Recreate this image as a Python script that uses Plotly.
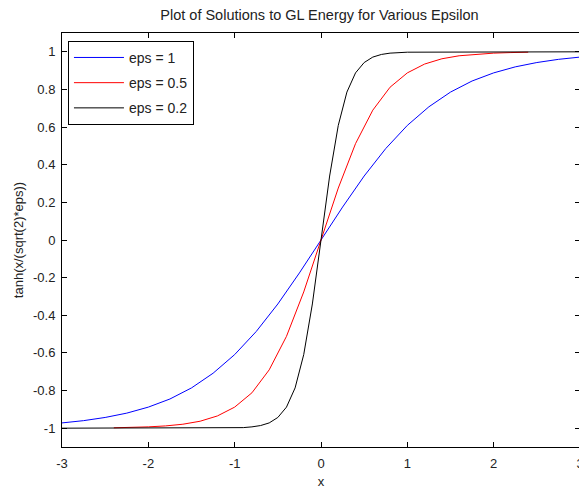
import plotly.graph_objects as go

# eps = 1
x_eps1 = [-3, -2.75, -2.5, -2.25, -2, -1.75, -1.5, -1.25, -1, -0.75, -0.5, -0.25, 0,
          0.25, 0.5, 0.75, 1, 1.25, 1.5, 1.75, 2, 2.25, 2.5, 2.75, 3]
y_eps1 = [-0.972, -0.960, -0.943, -0.920, -0.888, -0.845, -0.786, -0.708, -0.609, -0.486, -0.340, -0.175, 0,
          0.175, 0.340, 0.486, 0.609, 0.708, 0.786, 0.845, 0.888, 0.920, 0.943, 0.960, 0.972]

# eps = 0.5
x_eps05 = [-2.4, -2.2, -2.0, -1.8, -1.6, -1.4, -1.2, -1.0, -0.8, -0.6, -0.4, -0.2, 0,
           0.2, 0.4, 0.6, 0.8, 1.0, 1.2, 1.4, 1.6, 1.8, 2.0, 2.2, 2.4]
y_eps05 = [-0.998, -0.996, -0.993, -0.988, -0.979, -0.963, -0.935, -0.888, -0.812, -0.690, -0.512, -0.276, 0,
           0.276, 0.512, 0.690, 0.812, 0.888, 0.935, 0.963, 0.979, 0.988, 0.993, 0.996, 0.998]

# eps = 0.2
x_eps02 = [-3, -1.0, -0.9, -0.8, -0.7, -0.6, -0.5, -0.4, -0.3, -0.2, -0.1, 0,
           0.1, 0.2, 0.3, 0.4, 0.5, 0.6, 0.7, 0.8, 0.9, 1.0, 3]
y_eps02 = [-1.0, -0.998, -0.997, -0.993, -0.986, -0.972, -0.943, -0.888, -0.786, -0.609, -0.340, 0,
           0.340, 0.609, 0.786, 0.888, 0.943, 0.972, 0.986, 0.993, 0.997, 0.998, 1.0]

x_ticks = [-3, -2, -1, 0, 1, 2, 3]
x_ticklabels = ["-3", "-2", "-1", "0", "1", "2", "3"]
y_ticks = [-1, -0.8, -0.6, -0.4, -0.2, 0, 0.2, 0.4, 0.6, 0.8, 1]
y_ticklabels = ["-1", "-0.8", "-0.6", "-0.4", "-0.2", "0", "0.2", "0.4", "0.6", "0.8", "1"]

FONT = "Liberation Sans, Arial, sans-serif"

fig = go.Figure()
fig.add_trace(go.Scatter(x=x_eps1, y=y_eps1, mode="lines", name="eps = 1",
                         line=dict(color="#0000ff", width=1), legendgroup="a"))
fig.add_trace(go.Scatter(x=x_eps05, y=y_eps05, mode="lines", name="eps = 0.5",
                         line=dict(color="#ff0000", width=1), legendgroup="b"))
fig.add_trace(go.Scatter(x=x_eps02, y=y_eps02, mode="lines", name="eps = 0.2",
                         line=dict(color="#000000", width=1), legendgroup="c"))

axis_common = dict(
    showgrid=False, zeroline=False, showline=True, linecolor="black", linewidth=1,
    mirror="allticks", ticks="inside", ticklen=5, tickcolor="black", automargin=False,
    ticklabeloverflow="allow",
    tickfont=dict(family=FONT, size=13, color="#222222"),
)

# page body has an 8px margin, so the figure is sized to fit inside the window
fig.update_layout(
    width=579, height=481,
    paper_bgcolor="white", plot_bgcolor="white",
    margin=dict(l=54, r=7, t=25, b=42),
    title=dict(text="Plot of Solutions to GL Energy for Various Epsilon",
               x=0.538, xanchor="center", y=1, yanchor="top", pad=dict(t=2),
               font=dict(family=FONT, size=14.5, color="#222222")),
    xaxis=dict(range=[-3, 3], tickvals=x_ticks, ticktext=x_ticklabels, ticklabelstandoff=4,
               title=dict(text="x", font=dict(family=FONT, size=13, color="#222222"), standoff=9),
               **axis_common),
    yaxis=dict(range=[-1.1, 1.1], tickvals=y_ticks, ticktext=y_ticklabels, ticklabelstandoff=3,
               title=dict(text="tanh(x/(sqrt(2)*eps))", font=dict(family=FONT, size=13, color="#222222"), standoff=6),
               **axis_common),
    legend=dict(x=0.0115, y=0.981, xanchor="left", yanchor="top",
                bordercolor="black", borderwidth=1, bgcolor="white",
                font=dict(family=FONT, size=14, color="#222222"),
                itemwidth=50,
                traceorder="grouped", tracegroupgap=4),
    showlegend=True,
)

fig.write_html("out.html")
